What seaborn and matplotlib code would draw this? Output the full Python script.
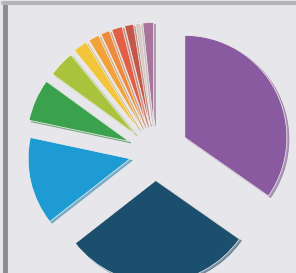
import numpy as np
import pandas as pd
import seaborn as sns
import matplotlib
matplotlib.use("Agg")
import matplotlib.pyplot as plt

# slice sizes in degrees, counter-clockwise from the top
labels = ['mauve', 'pale', 'brown', 'red', 'orange', 'light orange', 'yellow',
          'yellow green', 'green', 'blue', 'navy', 'purple']
sizes = [6, 3, 5, 6, 5, 6, 8, 15, 24, 50, 107, 125]
colors = ['#a8739c', '#d9c9c4', '#c4574a', '#e25f45', '#ee8a3c', '#f3a23a',
          '#f3c53a', '#a9c43c', '#3aa24c', '#1d9bd2', '#1c4f6e', '#8a5aa0']
explode = [0.28, 0.28, 0.28, 0.28, 0.28, 0.28, 0.28, 0.27, 0.28, 0.25, 0.27, 0.33]

df = pd.DataFrame({'label': labels, 'size': sizes, 'color': colors, 'explode': explode})

sns.set_style('white')
fig = plt.figure(figsize=(2.96, 2.73), dpi=100, facecolor='#e7e7eb')
ax = fig.add_axes([0, 0, 1, 1])
ax.set_facecolor('#e7e7eb')

ax.pie(df['size'], colors=df['color'], explode=df['explode'], startangle=90,
       counterclock=True, radius=1.0,
       wedgeprops={'edgecolor': '#f2efec', 'linewidth': 0.5},
       shadow={'ox': 0.015, 'oy': -0.012, 'shade': 0.2})

# pixel-matched limits: centre at (155,153), radius 102 px
ax.set_xlim(-155 / 102, (296 - 155) / 102)
ax.set_ylim((153 - 273) / 102, 153 / 102)
ax.set_aspect('auto')
ax.axis('off')

# frame lines
fig.add_artist(plt.Line2D([4.5 / 296, 4.5 / 296], [0, 1 - 4 / 273], transform=fig.transFigure,
                          color='#8c8c8f', linewidth=3.5))
fig.add_artist(plt.Line2D([3 / 296, 1], [1 - 3 / 273, 1 - 3 / 273], transform=fig.transFigure,
                          color='#b4b4b8', linewidth=3))

fig.savefig('out.png', dpi=100, facecolor=fig.get_facecolor())
